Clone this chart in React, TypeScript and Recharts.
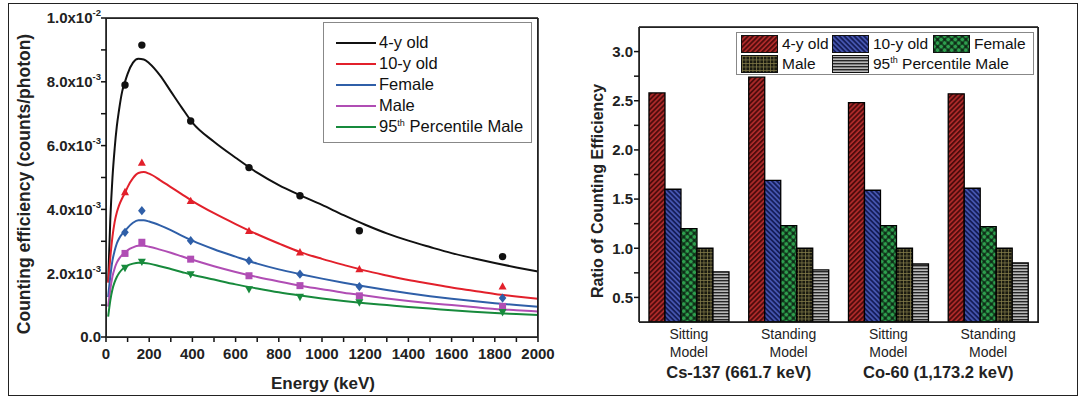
import {
  Bar,
  BarChart,
  ComposedChart,
  Line,
  ReferenceLine,
  Scatter,
  XAxis,
  YAxis,
} from "recharts";

const FONT = '"Liberation Sans", Arial, sans-serif';
const INK = "#222";
const AXIS = "#111";

// ---- left panel: counting efficiency vs energy ----
const SERIES = ["4-y old", "10-y old", "Female", "Male", "95th Percentile Male"];
const COLORS = ["#111111", "#e2202b", "#2f5fa8", "#b04db4", "#178a3c"];
const MARKERS = ["circle", "triangle", "diamond", "square", "triangleDown"];

// measured energies (keV) and efficiencies (x1e-3 counts/photon)
const POINT_E = [88, 166, 392, 662, 898, 1173, 1836];
const PTS_4Y = [7.9, 9.15, 6.77, 5.31, 4.43, 3.33, 2.52];
const PTS_10Y = [4.54, 5.46, 4.26, 3.32, 2.65, 2.12, 1.58];
const PTS_FEMALE = [3.28, 3.96, 3.02, 2.39, 1.97, 1.58, 1.22];
const PTS_MALE = [2.62, 2.97, 2.44, 1.92, 1.61, 1.29, 0.96];
const PTS_95TH = [2.17, 2.36, 1.97, 1.5, 1.26, 1.09, 0.78];

// fitted curves
const CURVE_E = [10, 20, 30, 40, 50, 60, 75, 88, 100, 125, 150, 175, 200, 250, 300, 350, 400, 500, 600, 700, 800, 900, 1000, 1100, 1200, 1300, 1400, 1500, 1600, 1700, 1800, 1900, 2000];
const FIT_4Y = [1.73, 3.7, 5.0, 5.9, 6.6, 7.1, 7.7, 8.0, 8.25, 8.6, 8.72, 8.7, 8.58, 8.2, 7.7, 7.2, 6.72, 6.12, 5.62, 5.15, 4.76, 4.44, 4.14, 3.82, 3.52, 3.25, 3.02, 2.82, 2.63, 2.47, 2.32, 2.18, 2.05];
const FIT_10Y = [1.7, 2.5, 3.15, 3.6, 3.9, 4.12, 4.35, 4.52, 4.7, 4.98, 5.14, 5.17, 5.12, 4.92, 4.7, 4.48, 4.26, 3.88, 3.54, 3.22, 2.93, 2.66, 2.45, 2.26, 2.08, 1.93, 1.79, 1.67, 1.55, 1.45, 1.35, 1.27, 1.2];
const FIT_FEMALE = [1.25, 1.9, 2.4, 2.7, 2.93, 3.08, 3.23, 3.32, 3.42, 3.58, 3.66, 3.66, 3.62, 3.5, 3.35, 3.18, 3.02, 2.75, 2.52, 2.3, 2.12, 1.97, 1.83, 1.7, 1.58, 1.47, 1.37, 1.28, 1.2, 1.13, 1.06, 1.0, 0.95];
const FIT_MALE = [0.95, 1.5, 1.9, 2.15, 2.33, 2.45, 2.57, 2.64, 2.72, 2.81, 2.86, 2.86, 2.83, 2.74, 2.64, 2.53, 2.42, 2.22, 2.04, 1.88, 1.74, 1.61, 1.5, 1.39, 1.3, 1.21, 1.13, 1.06, 1.0, 0.94, 0.88, 0.84, 0.8];
const FIT_95TH = [0.64, 1.15, 1.5, 1.72, 1.88, 2.0, 2.12, 2.18, 2.24, 2.3, 2.33, 2.32, 2.3, 2.22, 2.13, 2.04, 1.95, 1.8, 1.65, 1.52, 1.4, 1.3, 1.21, 1.13, 1.06, 1.0, 0.94, 0.89, 0.84, 0.79, 0.75, 0.72, 0.69];

const ALL_PTS = [PTS_4Y, PTS_10Y, PTS_FEMALE, PTS_MALE, PTS_95TH];
const ALL_FITS = [FIT_4Y, FIT_10Y, FIT_FEMALE, FIT_MALE, FIT_95TH];

const E_TICKS = [0, 100, 200, 300, 400, 500, 600, 700, 800, 900, 1000, 1100, 1200, 1300, 1400, 1500, 1600, 1700, 1800, 1900, 2000];
const EFF_TICKS = [0, 0.001, 0.002, 0.003, 0.004, 0.005, 0.006, 0.007, 0.008, 0.009, 0.01];

// ---- right panel: ratio of counting efficiency ----
const MODELS = ["Sitting", "Standing", "Sitting", "Standing"];
const SOURCES = ["Cs-137 (661.7 keV)", "Co-60 (1,173.2 keV)"];
const RATIO_4Y = [2.58, 2.74, 2.48, 2.57];
const RATIO_10Y = [1.6, 1.69, 1.59, 1.61];
const RATIO_FEMALE = [1.2, 1.23, 1.23, 1.22];
const RATIO_MALE = [1.0, 1.0, 1.0, 1.0];
const RATIO_95TH = [0.76, 0.78, 0.84, 0.85];
const RATIO_TICKS = [0.5, 0.75, 1.0, 1.25, 1.5, 1.75, 2.0, 2.25, 2.5, 2.75, 3.0];

const PATTERNS = ["pRed", "pBlue", "pGreen", "pMale", "p95"];
const BAR_KEYS = ["a", "b", "c", "d", "e"];

const toPts = (vals: number[]) => vals.map((v, i) => ({ e: POINT_E[i], v: v / 1000 }));
const toFit = (vals: number[]) => vals.map((v, i) => ({ e: CURVE_E[i], v: v / 1000 }));

const ratioRows = MODELS.map((m, i) => ({
  id: i,
  a: RATIO_4Y[i],
  b: RATIO_10Y[i],
  c: RATIO_FEMALE[i],
  d: RATIO_MALE[i],
  e: RATIO_95TH[i],
}));

function markerShape(kind: string, color: string) {
  return (p: any) => {
    const { cx, cy } = p;
    if (cx == null || cy == null) return <g />;
    switch (kind) {
      case "triangle":
        return <polygon points={`${cx},${cy - 4.4} ${cx - 4},${cy + 3} ${cx + 4},${cy + 3}`} fill={color} />;
      case "triangleDown":
        return <polygon points={`${cx},${cy + 4.4} ${cx - 4},${cy - 3} ${cx + 4},${cy - 3}`} fill={color} />;
      case "diamond":
        return <polygon points={`${cx},${cy - 4.6} ${cx + 3.8},${cy} ${cx},${cy + 4.6} ${cx - 3.8},${cy}`} fill={color} />;
      case "square":
        return <rect x={cx - 3.5} y={cy - 3.5} width={7} height={7} fill={color} />;
      default:
        return <circle cx={cx} cy={cy} r={3.7} fill={color} />;
    }
  };
}

function sciParts(v: number) {
  if (v === 0) return { m: "0.0", e: "" };
  const e = Math.floor(Math.log10(v) + 1e-9);
  return { m: (v / 10 ** e).toFixed(1) + "x10", e: String(e) };
}

// custom ticks get x/y offset by tickSize (5) + tickMargin (0)
const EnergyTick = ({ x, y, payload }: any) => {
  if (payload.value % 200 !== 0) return <g />;
  return (
    <text x={x} y={y + 12} dy="0.36em" textAnchor="middle" fontSize={15} fontWeight="bold" fill={INK}>
      {payload.value}
    </text>
  );
};

const EffTick = ({ x, y, payload, index }: any) => {
  if (index % 2 !== 0) return <g />;
  const { m, e } = sciParts(payload.value);
  return (
    <text x={x} y={y} dy="0.36em" textAnchor="end" fontSize={15} fontWeight="bold" fill={INK}>
      {m}
      {e && (
        <tspan dy={-7} fontSize={9.5}>
          {e}
        </tspan>
      )}
    </text>
  );
};

const RatioTick = ({ x, y, payload, index }: any) => {
  if (index % 2 !== 0) return <g />;
  return (
    <text x={x - 1} y={y} dy="0.36em" textAnchor="end" fontSize={15} fontWeight="bold" fill={INK}>
      {payload.value.toFixed(1)}
    </text>
  );
};

const BAR_PLOT_W = 399;

const ModelTick = ({ x, y, index }: any) => {
  const half = BAR_PLOT_W / MODELS.length / 2;
  return (
    <g fill={INK}>
      <text x={x} y={y + 12} dy="0.36em" textAnchor="middle" fontSize={14}>
        {MODELS[index]}
      </text>
      <text x={x} y={y + 30} dy="0.36em" textAnchor="middle" fontSize={14}>
        Model
      </text>
      {index % 2 === 0 && (
        <text x={x + half} y={y + 50} dy="0.36em" textAnchor="middle" fontSize={16.5} fontWeight="bold">
          {SOURCES[index / 2]}
        </text>
      )}
    </g>
  );
};

function Patterns() {
  return (
    <svg width={0} height={0} style={{ position: "absolute" }}>
      <defs>
        <pattern id="pRed" width="3.5" height="3.5" patternUnits="userSpaceOnUse" patternTransform="rotate(45)">
          <rect width="3.5" height="3.5" fill="#b32c2c" />
          <rect x="0" y="0" width="1.9" height="3.5" fill="#4e0c0c" />
        </pattern>
        <pattern id="pBlue" width="3.5" height="3.5" patternUnits="userSpaceOnUse" patternTransform="rotate(-45)">
          <rect width="3.5" height="3.5" fill="#4656b0" />
          <rect x="0" y="0" width="1.8" height="3.5" fill="#151d58" />
        </pattern>
        <pattern id="pGreen" width="5" height="5" patternUnits="userSpaceOnUse" patternTransform="rotate(45)">
          <rect width="5" height="5" fill="#0e2a16" />
          <circle cx="2.5" cy="2.5" r="2" fill="#2ea04e" />
        </pattern>
        <pattern id="pMale" width="3.5" height="3.5" patternUnits="userSpaceOnUse">
          <rect width="3.5" height="3.5" fill="#1a1a10" />
          <rect x="0" y="0" width="3.5" height="0.7" fill="#857e4a" />
          <rect x="0" y="0" width="0.7" height="3.5" fill="#857e4a" />
        </pattern>
        <pattern id="p95" width="3" height="3" patternUnits="userSpaceOnUse">
          <rect width="3" height="3" fill="#b8b8b8" />
          <rect x="0" y="1" width="3" height="1.4" fill="#262626" />
        </pattern>
      </defs>
    </svg>
  );
}

function EfficiencyChart() {
  return (
    <ComposedChart width={560} height={400} margin={{ top: 18, right: 22, bottom: 8, left: 8 }}>
      <XAxis
        type="number"
        dataKey="e"
        domain={[0, 2000]}
        ticks={E_TICKS}
        interval={0}
        tick={<EnergyTick />}
        tickSize={5}
        tickMargin={0}
        height={55}
        stroke={AXIS}
        strokeWidth={1.5}
      />
      <YAxis
        type="number"
        dataKey="v"
        domain={[0, 0.01]}
        ticks={EFF_TICKS}
        interval={0}
        tick={<EffTick />}
        tickSize={5}
        tickMargin={0}
        width={98}
        stroke={AXIS}
        strokeWidth={1.5}
      />
      <ReferenceLine y={0.01} stroke={AXIS} strokeWidth={1.5} />
      <ReferenceLine x={2000} stroke={AXIS} strokeWidth={1.5} />
      {ALL_FITS.map((fit, i) => (
        <Line
          key={SERIES[i]}
          data={toFit(fit)}
          dataKey="v"
          type="monotone"
          stroke={COLORS[i]}
          strokeWidth={2}
          dot={false}
          isAnimationActive={false}
        />
      ))}
      {ALL_PTS.map((pts, i) => (
        <Scatter
          key={"pts" + i}
          data={toPts(pts)}
          fill={COLORS[i]}
          shape={markerShape(MARKERS[i], COLORS[i])}
          isAnimationActive={false}
        />
      ))}
    </ComposedChart>
  );
}

function RatioChart() {
  return (
    <BarChart
      width={532}
      height={400}
      data={ratioRows}
      margin={{ top: 27, right: 54, bottom: 8, left: 8 }}
      barCategoryGap="10%"
      barGap={0}
    >
      <XAxis dataKey="id" tick={<ModelTick />} tickLine={false} tickSize={0} tickMargin={0} height={70} interval={0} stroke={AXIS} strokeWidth={1.5} />
      <YAxis
        type="number"
        domain={[0.25, 3.25]}
        ticks={RATIO_TICKS}
        interval={0}
        tick={<RatioTick />}
        tickSize={5}
        tickMargin={0}
        width={71}
        stroke={AXIS}
        strokeWidth={1.5}
      />
      <ReferenceLine y={3.25} stroke={AXIS} strokeWidth={1.5} />
      <ReferenceLine x={3} position="end" stroke={AXIS} strokeWidth={1.5} />
      {BAR_KEYS.map((k, i) => (
        <Bar
          key={k}
          dataKey={k}
          name={SERIES[i]}
          fill={`url(#${PATTERNS[i]})`}
          stroke="#000"
          strokeWidth={1.3}
          isAnimationActive={false}
        />
      ))}
    </BarChart>
  );
}

const titleStyle = (cx: number, cy: number, size: number, rotate: boolean): any => ({
  position: "absolute",
  left: cx,
  top: cy,
  transform: `translate(-50%, -50%)${rotate ? " rotate(-90deg)" : ""}`,
  whiteSpace: "nowrap",
  fontFamily: FONT,
  fontSize: size,
  fontWeight: "bold",
  color: INK,
  lineHeight: 1,
});

// plot-area outlines, drawn in HTML as well so the frame is always crisp
const plotBox = (left: number, top: number, width: number, height: number): any => ({
  position: "absolute",
  left,
  top,
  width,
  height,
  border: "1px solid #222",
  boxSizing: "border-box",
  pointerEvents: "none",
});

function LineLegend() {
  return (
    <div
      style={{
        position: "absolute",
        left: 323,
        top: 22,
        width: 209,
        height: 121,
        border: "1px solid #888",
        background: "#fff",
        fontFamily: FONT,
        fontSize: 16.5,
        color: "#111",
        paddingTop: 9,
        boxSizing: "border-box",
      }}
    >
      {SERIES.map((s, i) => (
        <div key={s} style={{ display: "flex", alignItems: "center", height: 21 }}>
          <div style={{ width: 40, height: 2, background: COLORS[i], marginLeft: 12, marginRight: 3, flexShrink: 0 }} />
          <span style={{ whiteSpace: "nowrap" }}>
            {i === 4 ? (
              <>
                95<sup style={{ fontSize: 9 }}>th</sup> Percentile Male
              </>
            ) : (
              s
            )}
          </span>
        </div>
      ))}
    </div>
  );
}

function BarLegend() {
  const item = (i: number) => (
    <div key={i} style={{ display: "flex", alignItems: "center", height: 20 }}>
      <div
        style={{
          width: 35,
          height: 16,
          border: "1px solid #111",
          marginRight: 4,
          flexShrink: 0,
          overflow: "hidden",
        }}
      >
        <svg width={35} height={16} style={{ display: "block" }}>
          <rect width={35} height={16} fill={`url(#${PATTERNS[i]})`} />
        </svg>
      </div>
      <span style={{ whiteSpace: "nowrap" }}>
        {i === 4 ? (
          <>
            95<sup style={{ fontSize: 9 }}>th</sup> Percentile Male
          </>
        ) : (
          SERIES[i]
        )}
      </span>
    </div>
  );
  return (
    <div
      style={{
        position: "absolute",
        left: 736,
        top: 32,
        width: 298,
        height: 43,
        border: "1px solid #888",
        background: "#fff",
        fontFamily: FONT,
        fontSize: 15.5,
        color: "#111",
        boxSizing: "border-box",
        paddingLeft: 4,
        paddingTop: 1,
        display: "grid",
        gridTemplateColumns: "91px 101px auto",
      }}
    >
      {item(0)}
      {item(1)}
      {item(2)}
      {item(3)}
      {item(4)}
    </div>
  );
}

export default function App() {
  return (
    <div style={{ position: "absolute", left: 0, top: 0, width: 1092, height: 400, background: "#fff", fontFamily: FONT }}>
      <Patterns />
      <div
        style={{
          position: "absolute",
          left: 8,
          top: 3,
          width: 1070,
          height: 393,
          border: "1px solid #222",
          boxSizing: "border-box",
        }}
      />
      <div style={{ position: "absolute", left: 0, top: 0 }}>
        <EfficiencyChart />
      </div>
      <div style={{ position: "absolute", left: 560, top: 0 }}>
        <RatioChart />
      </div>
      <div style={plotBox(106, 18, 432, 320)} />
      <div style={plotBox(639, 27, 400, 296)} />
      <div style={titleStyle(25, 184, 17.5, true)}>Counting efficiency (counts/photon)</div>
      <div style={titleStyle(323, 383, 17, false)}>Energy (keV)</div>
      <div style={titleStyle(598, 191, 16, true)}>Ratio of Counting Efficiency</div>
      <LineLegend />
      <BarLegend />
    </div>
  );
}
